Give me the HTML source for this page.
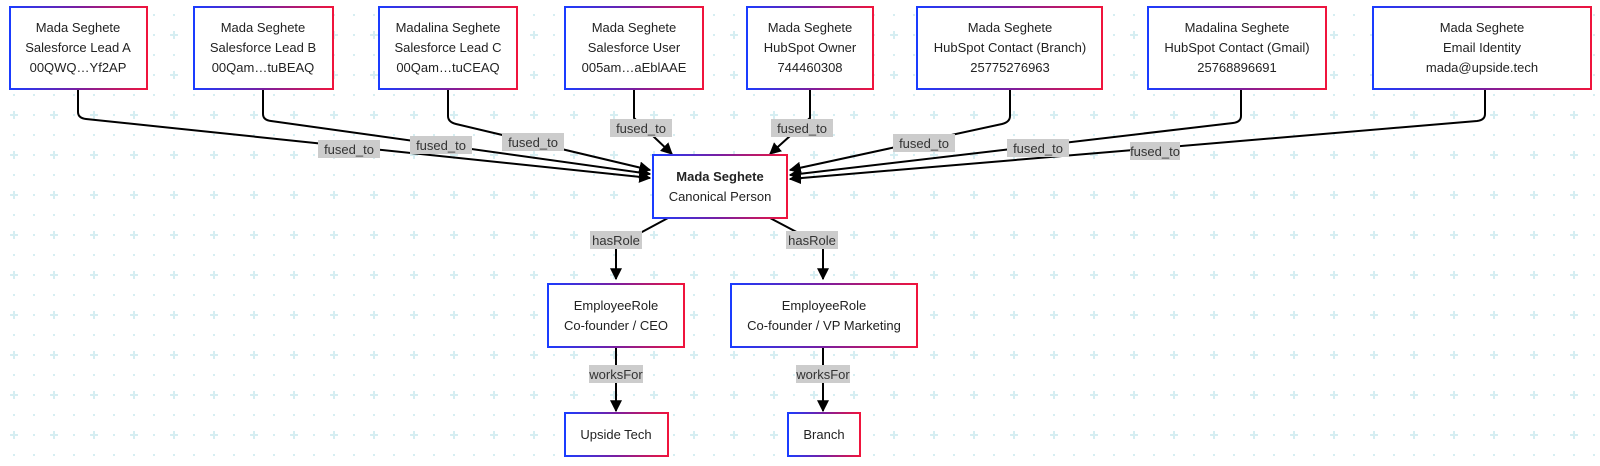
<!DOCTYPE html>
<html><head><meta charset="utf-8"><style>
html,body{margin:0;padding:0;background:#fff;}
svg{display:block;font-family:"Liberation Sans",Arial,sans-serif;}
</style></head><body>
<svg width="1600" height="466" viewBox="0 0 1600 466" xmlns="http://www.w3.org/2000/svg">
<defs>
<pattern id="grid" x="0" y="0" width="40" height="40" patternUnits="userSpaceOnUse">
<rect x="13" y="34" width="2" height="2" fill="#d6eef2"/>
<rect x="33" y="34" width="2" height="2" fill="#d6eef2"/>
<rect x="13" y="14" width="2" height="2" fill="#d6eef2"/>
<rect x="33" y="14" width="2" height="2" fill="#d6eef2"/>
<rect x="10" y="34" width="8" height="2" fill="#d6eef2"/>
<rect x="13" y="31" width="2" height="8" fill="#d6eef2"/>
</pattern>
<linearGradient id="bg" x1="0" y1="0" x2="1" y2="0">
<stop offset="0" stop-color="#1a3cff"/><stop offset="0.5" stop-color="#7a1ea0"/><stop offset="1" stop-color="#f0143c"/>
</linearGradient>
<marker id="ah" viewBox="0 0 10 10" refX="9" refY="5" markerWidth="6" markerHeight="6" orient="auto-start-reverse">
<path d="M0,0 L10,5 L0,10 z" fill="#000"/>
</marker>
</defs>
<rect width="1600" height="466" fill="url(#grid)"/>
<g fill="none" stroke="#000" stroke-width="2" marker-end="url(#ah)">
<path d="M78,89 V112 Q78,118 86,119 L650,178"/>
<path d="M263,89 V114 Q263,120 271,121 L650,174"/>
<path d="M448,89 V116 Q448,122 456,124 L650,170"/>
<path d="M634,89 V118 L672,154"/>
<path d="M810,89 V118 L770,154"/>
<path d="M1010,89 V116 Q1010,122 1002,124 L790,170"/>
<path d="M1241,89 V116 Q1241,122 1233,123 L790,175"/>
<path d="M1485,89 V114 Q1485,120 1477,121 L790,179"/>
<path d="M668,218 L616,246 V279"/>
<path d="M770,218 L823,246 V279"/>
<path d="M616,347 V411"/>
<path d="M823,347 V411"/>
</g>
<g font-size="13" text-anchor="middle" fill="#333">
<g>
<rect x="318" y="140" width="62" height="18" fill="#ccc"/><text x="349" y="154">fused_to</text>
<rect x="410" y="136" width="62" height="18" fill="#ccc"/><text x="441" y="150">fused_to</text>
<rect x="502" y="133" width="62" height="18" fill="#ccc"/><text x="533" y="147">fused_to</text>
<rect x="610" y="119" width="62" height="18" fill="#ccc"/><text x="641" y="133">fused_to</text>
<rect x="771" y="119" width="62" height="18" fill="#ccc"/><text x="802" y="133">fused_to</text>
<rect x="893" y="134" width="62" height="18" fill="#ccc"/><text x="924" y="148">fused_to</text>
<rect x="1007" y="139" width="62" height="18" fill="#ccc"/><text x="1038" y="153">fused_to</text>
<rect x="1130" y="142" width="50" height="18" fill="#ccc"/><text x="1155" y="156">fused_to</text>
<rect x="590" y="231" width="52" height="18" fill="#ccc"/><text x="616" y="245">hasRole</text>
<rect x="786" y="231" width="52" height="18" fill="#ccc"/><text x="812" y="245">hasRole</text>
<rect x="589" y="365" width="54" height="18" fill="#ccc"/><text x="616" y="379">worksFor</text>
<rect x="796" y="365" width="54" height="18" fill="#ccc"/><text x="823" y="379">worksFor</text>
</g>
<g fill="#fff" stroke="url(#bg)" stroke-width="2">
<rect x="10" y="7" width="137" height="82"/>
<rect x="194" y="7" width="139" height="82"/>
<rect x="379" y="7" width="138" height="82"/>
<rect x="565" y="7" width="138" height="82"/>
<rect x="747" y="7" width="126" height="82"/>
<rect x="917" y="7" width="185" height="82"/>
<rect x="1148" y="7" width="178" height="82"/>
<rect x="1373" y="7" width="218" height="82"/>
<rect x="653" y="155" width="134" height="63"/>
<rect x="548" y="284" width="136" height="63"/>
<rect x="731" y="284" width="186" height="63"/>
<rect x="565" y="413" width="103" height="43"/>
<rect x="788" y="413" width="72" height="43"/>
</g>
<g fill="#222">
<text x="78" y="32">Mada Seghete</text><text x="78" y="52">Salesforce Lead A</text><text x="78" y="72">00QWQ…Yf2AP</text>
<text x="263" y="32">Mada Seghete</text><text x="263" y="52">Salesforce Lead B</text><text x="263" y="72">00Qam…tuBEAQ</text>
<text x="448" y="32">Madalina Seghete</text><text x="448" y="52">Salesforce Lead C</text><text x="448" y="72">00Qam…tuCEAQ</text>
<text x="634" y="32">Mada Seghete</text><text x="634" y="52">Salesforce User</text><text x="634" y="72">005am…aEblAAE</text>
<text x="810" y="32">Mada Seghete</text><text x="810" y="52">HubSpot Owner</text><text x="810" y="72">744460308</text>
<text x="1010" y="32">Mada Seghete</text><text x="1010" y="52">HubSpot Contact (Branch)</text><text x="1010" y="72">25775276963</text>
<text x="1237" y="32">Madalina Seghete</text><text x="1237" y="52">HubSpot Contact (Gmail)</text><text x="1237" y="72">25768896691</text>
<text x="1482" y="32">Mada Seghete</text><text x="1482" y="52">Email Identity</text><text x="1482" y="72">mada@upside.tech</text>
<text x="720" y="181" font-weight="bold">Mada Seghete</text><text x="720" y="201">Canonical Person</text>
<text x="616" y="310">EmployeeRole</text><text x="616" y="330">Co-founder / CEO</text>
<text x="824" y="310">EmployeeRole</text><text x="824" y="330">Co-founder / VP Marketing</text>
<text x="616" y="439">Upside Tech</text>
<text x="824" y="439">Branch</text>
</g>
</g>
</svg>
</body></html>
